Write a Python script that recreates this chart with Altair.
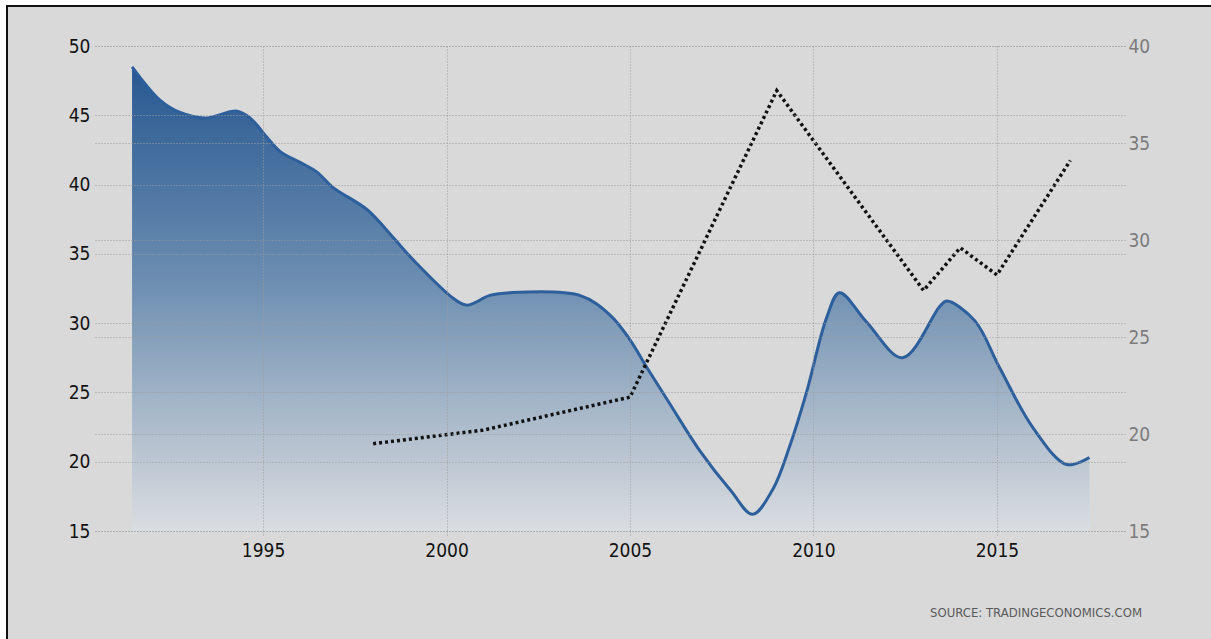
import altair as alt
import pandas as pd

# Blue series (left axis)
blue_years = [1991.43, 1992.19, 1992.74, 1993.42, 1994.29, 1994.65, 1995.11, 1995.46,
              1996.01, 1996.47, 1996.90, 1997.83, 1998.54, 1999.08, 2000.23, 2000.56,
              2001.18, 2001.73, 2003.63, 2004.45, 2005.00, 2005.46, 2006.08, 2006.90,
              2007.75, 2008.34, 2008.89, 2009.35, 2009.81, 2010.36, 2010.71, 2011.44,
              2012.43, 2013.44, 2013.63, 2014.39, 2015.07, 2015.97, 2016.90, 2017.52]
blue_values = [48.5, 46.1, 45.2, 44.8, 45.3, 44.8, 43.4, 42.4,
               41.6, 40.9, 39.8, 38.2, 36.2, 34.6, 31.7, 31.3,
               32.0, 32.2, 32.0, 30.6, 28.8, 26.8, 24.2, 20.8,
               17.9, 16.2, 18.0, 21.1, 25.0, 30.4, 32.2, 30.1,
               27.5, 31.2, 31.6, 30.2, 26.8, 22.5, 19.8, 20.3]

# Dotted series (right axis)
dot_years = [1998, 2001, 2005, 2009, 2013, 2014, 2015, 2017]
dot_values = [19.5, 20.2, 21.9, 37.7, 27.4, 29.6, 28.2, 34.1]

x_ticks = [1995, 2000, 2005, 2010, 2015]
left_ticks = [15, 20, 25, 30, 35, 40, 45, 50]
right_ticks = [15, 20, 25, 30, 35, 40]

blue = pd.DataFrame({"year": blue_years, "value": blue_values})
dots = pd.DataFrame({"year": dot_years, "value": dot_values})
frame_df = pd.DataFrame({"k": [0]})

FONT = "Liberation Sans Narrow, DejaVu Sans Condensed, Liberation Sans, sans-serif"
GRID = "#9c9c9c"
SIZE = 19

x_enc = alt.X(
    "year:Q",
    scale=alt.Scale(domain=[1990.42, 2018.49], nice=False, zero=False),
    axis=alt.Axis(
        values=x_ticks, format="d", title=None, grid=True, gridColor=GRID,
        gridDash=[1, 2], gridWidth=1, domain=False, ticks=True, tickSize=6,
        tickColor=GRID, tickDash=[1, 2], labelPadding=4, labelFontSize=SIZE,
        labelFont=FONT, labelColor="#121212", labelFlush=False, zindex=1,
    ),
)

y_left = alt.Y(
    "value:Q",
    scale=alt.Scale(domain=[15, 50], nice=False, zero=False),
    axis=alt.Axis(
        values=left_ticks, title=None, grid=True, gridColor=GRID, gridDash=[1, 2],
        gridWidth=1, domain=False, ticks=False, labelPadding=5, labelFontSize=SIZE,
        labelFont=FONT, labelColor="#121212", orient="left", zindex=1,
    ),
)

y_right = alt.Y(
    "value:Q",
    scale=alt.Scale(domain=[15, 40], nice=False, zero=False),
    axis=alt.Axis(
        values=right_ticks, title=None, grid=True, gridColor=GRID, gridDash=[1, 2],
        gridWidth=1, domain=False, ticks=False, labelPadding=3, labelFontSize=SIZE,
        labelFont=FONT, labelColor="#7c7c7c", orient="right", zindex=1,
    ),
)

# Gray panel, with dark edges on its left and top
panel = alt.Chart(frame_df).mark_rect(fill="#d9d9d9").encode(
    x=alt.value(-88), x2=alt.value(1200), y=alt.value(-40), y2=alt.value(700)
)
edge_left = alt.Chart(frame_df).mark_rule(color="#111111", strokeWidth=2).encode(
    x=alt.value(-88), y=alt.value(-41), y2=alt.value(700)
)
edge_top = alt.Chart(frame_df).mark_rule(color="#111111", strokeWidth=2).encode(
    x=alt.value(-89), x2=alt.value(1200), y=alt.value(-40)
)

area = alt.Chart(blue).mark_area(
    interpolate="catmull-rom",
    color=alt.Gradient(
        gradient="linear",
        stops=[
            alt.GradientStop(color="#285891", offset=0),
            alt.GradientStop(color="#6a8cb0", offset=0.45),
            alt.GradientStop(color="#b3c0ce", offset=0.8),
            alt.GradientStop(color="#dadde1", offset=1),
        ],
        x1=1, x2=1, y1=0, y2=1,
    ),
).encode(x=x_enc, y=y_left, y2=alt.datum(15))

line = alt.Chart(blue).mark_line(
    interpolate="catmull-rom", color="#2d5f9c", strokeWidth=3
).encode(x=x_enc, y=y_left)

dotted = alt.Chart(dots).mark_line(
    color="#111111", strokeWidth=3.5, strokeDash=[3, 3], strokeCap="butt"
).encode(x=x_enc, y=y_right)

source = alt.Chart(frame_df).mark_text(
    text="SOURCE: TRADINGECONOMICS.COM", align="right", baseline="middle",
    font=FONT, fontSize=13, color="#5a5a5a"
).encode(x=alt.value(1047), y=alt.value(567))

chart = alt.layer(
    alt.layer(panel, edge_left, edge_top, area, line, source), dotted
).resolve_scale(y="independent").properties(
    width=1030,
    height=485,
    autosize=alt.AutoSizeParams(type="none"),
    padding={"left": 95, "top": 46, "right": 86, "bottom": 108},
    background="white",
).configure_view(stroke=None)

chart.save("out.html", embed_options={"renderer": "svg", "actions": False})
